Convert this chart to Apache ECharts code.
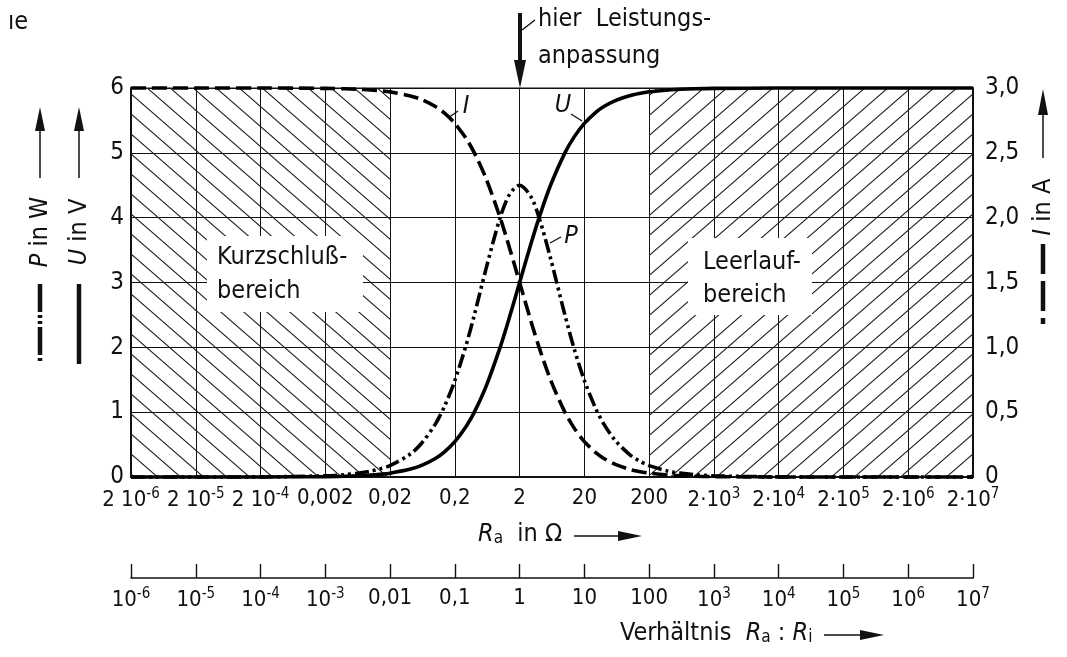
<!DOCTYPE html>
<html>
<head>
<meta charset="utf-8">
<script src="https://cdn.jsdelivr.net/npm/echarts@6/dist/echarts.min.js"></script>
<style>html,body{margin:0;padding:0;background:#fff}#c{width:1067px;height:657px}</style>
</head>
<body>
<div id="c"></div>
<script>
// ---- data (x = ratio Ra : Ri, Ri = 2 Ω) ----
const ratio = [1e-6, 1e-5, 1e-4, 1e-3, 0.002, 0.003, 0.005, 0.007, 0.01, 0.02, 0.03, 0.05, 0.07, 0.1, 0.15, 0.2, 0.3, 0.5, 0.7, 1, 1.5, 2, 3, 5, 7, 10, 15, 20, 30, 50, 70, 100, 200, 300, 500, 1000, 1e4, 1e5, 1e6, 1e7];
const uVolt = [0, 0, 0.001, 0.006, 0.012, 0.018, 0.03, 0.042, 0.059, 0.118, 0.175, 0.286, 0.393, 0.545, 0.783, 1.0, 1.385, 2.0, 2.47, 3.0, 3.6, 4.0, 4.5, 5.0, 5.25, 5.455, 5.625, 5.714, 5.806, 5.882, 5.915, 5.941, 5.97, 5.98, 5.988, 5.994, 5.999, 6, 6, 6];
const iAmp = [3, 3, 3, 2.997, 2.994, 2.991, 2.985, 2.979, 2.97, 2.941, 2.913, 2.857, 2.804, 2.727, 2.609, 2.5, 2.308, 2.0, 1.765, 1.5, 1.2, 1.0, 0.75, 0.5, 0.375, 0.273, 0.188, 0.143, 0.097, 0.059, 0.042, 0.03, 0.015, 0.01, 0.006, 0.003, 0.0003, 0, 0, 0];
const pWatt = [0, 0, 0.002, 0.018, 0.036, 0.054, 0.09, 0.124, 0.176, 0.346, 0.509, 0.816, 1.1, 1.488, 2.042, 2.5, 3.195, 4.0, 4.36, 4.5, 4.32, 4.0, 3.375, 2.5, 1.969, 1.488, 1.055, 0.816, 0.562, 0.346, 0.25, 0.176, 0.089, 0.06, 0.036, 0.018, 0.002, 0, 0, 0];
const raTickLabels = ['2 10{sup|-6}', '2 10{sup|-5}', '2 10{sup|-4}', '0,002', '0,02', '0,2', '2', '20', '200', '2·10{sup|3}', '2·10{sup|4}', '2·10{sup|5}', '2·10{sup|6}', '2·10{sup|7}'];
const ratioTickLabels = ['10{sup|-6}', '10{sup|-5}', '10{sup|-4}', '10{sup|-3}', '0,01', '0,1', '1', '10', '100', '10{sup|3}', '10{sup|4}', '10{sup|5}', '10{sup|6}', '10{sup|7}'];
const leftTickLabels = ['0', '1', '2', '3', '4', '5', '6'];
const rightTickLabels = ['0', '0,5', '1,0', '1,5', '2,0', '2,5', '3,0'];
const shortCircuitRange = [1e-6, 0.01];
const openCircuitRange = [100, 1e7];

const FONT = '"Liberation Sans Narrow", "DejaVu Sans Condensed", "Roboto Condensed", sans-serif';
const INK = '#111';

function hatch(dir) {
  const w = 23, h = 20;
  const c = document.createElement('canvas');
  c.width = w; c.height = h;
  const g = c.getContext('2d');
  g.strokeStyle = '#222'; g.lineWidth = 1.1;
  g.beginPath();
  if (dir === 'back') {
    g.moveTo(-w, -h); g.lineTo(2 * w, 2 * h);
    g.moveTo(-w, 0); g.lineTo(w, 2 * h);
    g.moveTo(0, -h); g.lineTo(2 * w, h);
  } else {
    g.moveTo(-w, 2 * h); g.lineTo(2 * w, -h);
    g.moveTo(-w, h); g.lineTo(w, -h);
    g.moveTo(0, 2 * h); g.lineTo(2 * w, 0);
  }
  g.stroke();
  return { image: c, repeat: 'repeat' };
}

function expIndex(v) { return Math.round(Math.log10(v)) + 6; }
const supRich = { sup: { fontSize: 15, fontFamily: FONT, color: INK, padding: [0, 0, 12, 0] } };

const chart = echarts.init(document.getElementById('c'), null, { renderer: 'canvas' });

function pairs(ys) { return ratio.map((r, i) => [r, ys[i]]); }

const option = {
  backgroundColor: '#fff',
  animation: false,
  textStyle: { fontFamily: FONT, color: INK },
  grid: { left: 131, right: 94, top: 88, bottom: 180, show: true, borderColor: INK, borderWidth: 1.2, backgroundColor: 'transparent' },
  xAxis: [
    {
      type: 'log', logBase: 10, min: 1e-6, max: 1e7, interval: 1, splitNumber: 13, position: 'bottom',
      axisLine: { show: true, lineStyle: { color: INK, width: 2 } },
      axisTick: { show: false },
      splitLine: { show: true, lineStyle: { color: INK, width: 1 } },
      axisLabel: {
        margin: 10, fontSize: 22, fontFamily: FONT, color: INK,
        formatter: v => raTickLabels[expIndex(v)] || '',
        rich: supRich
      }
    },
    {
      type: 'log', logBase: 10, min: 1e-6, max: 1e7, interval: 1, splitNumber: 13, position: 'bottom', offset: 101,
      axisLine: { show: true, onZero: false, lineStyle: { color: INK, width: 1.6 } },
      axisTick: { show: true, inside: true, length: 14, lineStyle: { color: INK, width: 1.4 } },
      splitLine: { show: false },
      axisLabel: {
        margin: 9, fontSize: 22, fontFamily: FONT, color: INK,
        formatter: v => ratioTickLabels[expIndex(v)] || '',
        rich: supRich
      }
    }
  ],
  yAxis: [
    {
      type: 'value', min: 0, max: 6, interval: 1, position: 'left',
      axisLine: { show: true, lineStyle: { color: INK, width: 2 } },
      axisTick: { show: false },
      splitLine: { show: true, lineStyle: { color: INK, width: 1 } },
      axisLabel: { margin: 7, fontSize: 24, fontFamily: FONT, color: INK, formatter: (v) => leftTickLabels[Math.round(v)] }
    },
    {
      type: 'value', min: 0, max: 3, interval: 0.5, position: 'right',
      axisLine: { show: true, lineStyle: { color: INK, width: 2 } },
      axisTick: { show: false },
      splitLine: { show: false },
      axisLabel: { margin: 12, fontSize: 24, fontFamily: FONT, color: INK, formatter: (v) => rightTickLabels[Math.round(v * 2)] }
    }
  ],
  series: [
    {
      name: 'hatch', type: 'line', data: [], z: 1, silent: true,
      markArea: {
        silent: true,
        data: [
          [{ xAxis: shortCircuitRange[0], yAxis: 0, itemStyle: { color: hatch('back'), opacity: 1 } }, { xAxis: shortCircuitRange[1], yAxis: 6 }],
          [{ xAxis: openCircuitRange[0], yAxis: 0, itemStyle: { color: hatch('fwd'), opacity: 1 } }, { xAxis: openCircuitRange[1], yAxis: 6 }]
        ]
      }
    },
    {
      name: 'U', type: 'line', xAxisIndex: 0, yAxisIndex: 0, data: pairs(uVolt), showSymbol: false,
      smooth: 0.3, clip: false, z: 5,
      lineStyle: { color: '#000', width: 3.6 }
    },
    {
      name: 'I', type: 'line', xAxisIndex: 0, yAxisIndex: 1, data: pairs(iAmp), showSymbol: false,
      smooth: 0.3, clip: false, z: 5,
      lineStyle: { color: '#000', width: 3.6, type: [15, 6] }
    },
    {
      name: 'P', type: 'line', xAxisIndex: 0, yAxisIndex: 0, data: pairs(pWatt), showSymbol: false,
      smooth: 0.3, clip: false, z: 5,
      lineStyle: { color: '#000', width: 3.6, type: [14, 4, 3, 4, 3, 4] }
    }
  ],
  graphic: {
    elements: [
      // label boxes
      { type: 'rect', z: 20, shape: { x: 207, y: 236, width: 156, height: 76 }, style: { fill: '#fff' } },
      { type: 'rect', z: 20, shape: { x: 688, y: 238, width: 124, height: 77 }, style: { fill: '#fff' } },
      { type: 'text', z: 21, x: 217, y: 274, style: { text: 'Kurzschluß-\nbereich', fontSize: 25, fontFamily: FONT, fill: INK, lineHeight: 34, align: 'left', verticalAlign: 'middle' } },
      { type: 'text', z: 21, x: 703, y: 279, style: { text: 'Leerlauf-\nbereich', fontSize: 25, fontFamily: FONT, fill: INK, lineHeight: 33, align: 'left', verticalAlign: 'middle' } },
      // curve labels
      { type: 'text', z: 21, x: 466, y: 106, style: { text: 'I', fontSize: 25, fontStyle: 'italic', fontFamily: FONT, fill: INK, align: 'center', verticalAlign: 'middle' } },
      { type: 'line', z: 21, shape: { x1: 448, y1: 118, x2: 458, y2: 111 }, style: { stroke: INK, lineWidth: 1.3 } },
      { type: 'text', z: 21, x: 563, y: 105, style: { text: 'U', fontSize: 25, fontStyle: 'italic', fontFamily: FONT, fill: INK, align: 'center', verticalAlign: 'middle' } },
      { type: 'line', z: 21, shape: { x1: 571, y1: 114, x2: 582, y2: 121 }, style: { stroke: INK, lineWidth: 1.3 } },
      { type: 'text', z: 21, x: 571, y: 236, style: { text: 'P', fontSize: 25, fontStyle: 'italic', fontFamily: FONT, fill: INK, align: 'center', verticalAlign: 'middle' } },
      { type: 'line', z: 21, shape: { x1: 550, y1: 243, x2: 561, y2: 237 }, style: { stroke: INK, lineWidth: 1.3 } },
      // Leistungsanpassung
      { type: 'text', z: 21, x: 538, y: 19, style: { text: 'hier  Leistungs-', fontSize: 25, fontFamily: FONT, fill: INK, align: 'left', verticalAlign: 'middle' } },
      { type: 'text', z: 21, x: 538, y: 56, style: { text: 'anpassung', fontSize: 25, fontFamily: FONT, fill: INK, align: 'left', verticalAlign: 'middle' } },
      { type: 'line', z: 21, shape: { x1: 520, y1: 13, x2: 520, y2: 64 }, style: { stroke: INK, lineWidth: 4 } },
      { type: 'polygon', z: 21, shape: { points: [[514, 60], [526, 60], [520, 88]] }, style: { fill: INK } },
      { type: 'line', z: 21, shape: { x1: 522, y1: 30, x2: 535, y2: 20 }, style: { stroke: INK, lineWidth: 1.4 } },
      // left axis names
      { type: 'text', z: 21, x: 40, y: 232, rotation: Math.PI / 2, style: { text: '{i|P} in W', fontSize: 25, fontFamily: FONT, fill: INK, align: 'center', verticalAlign: 'middle', rich: { i: { fontStyle: 'italic', fontSize: 25, fontFamily: FONT } } } },
      { type: 'text', z: 21, x: 79, y: 232, rotation: Math.PI / 2, style: { text: '{i|U} in V', fontSize: 25, fontFamily: FONT, fill: INK, align: 'center', verticalAlign: 'middle', rich: { i: { fontStyle: 'italic', fontSize: 25, fontFamily: FONT } } } },
      { type: 'line', z: 21, shape: { x1: 40, y1: 128, x2: 40, y2: 178 }, style: { stroke: INK, lineWidth: 1.5 } },
      { type: 'polygon', z: 21, shape: { points: [[35, 131], [45, 131], [40, 107]] }, style: { fill: INK } },
      { type: 'line', z: 21, shape: { x1: 79, y1: 128, x2: 79, y2: 178 }, style: { stroke: INK, lineWidth: 1.5 } },
      { type: 'polygon', z: 21, shape: { points: [[74, 131], [84, 131], [79, 107]] }, style: { fill: INK } },
      { type: 'line', z: 21, shape: { x1: 40, y1: 284, x2: 40, y2: 364 }, style: { stroke: INK, lineWidth: 4.5, lineDash: [28, 3, 3, 3, 3, 3] } },
      { type: 'line', z: 21, shape: { x1: 79, y1: 284, x2: 79, y2: 364 }, style: { stroke: INK, lineWidth: 4.5 } },
      // right axis name
      { type: 'text', z: 21, x: 1043, y: 207, rotation: Math.PI / 2, style: { text: '{i|I} in A', fontSize: 25, fontFamily: FONT, fill: INK, align: 'center', verticalAlign: 'middle', rich: { i: { fontStyle: 'italic', fontSize: 25, fontFamily: FONT } } } },
      { type: 'line', z: 21, shape: { x1: 1043, y1: 112, x2: 1043, y2: 158 }, style: { stroke: INK, lineWidth: 1.5 } },
      { type: 'polygon', z: 21, shape: { points: [[1038, 115], [1048, 115], [1043, 89]] }, style: { fill: INK } },
      { type: 'line', z: 21, shape: { x1: 1043, y1: 244, x2: 1043, y2: 324 }, style: { stroke: INK, lineWidth: 4.5, lineDash: [30, 7] } },
      // bottom axis names
      { type: 'text', z: 21, x: 478, y: 534, style: { text: '{i|R}{sub|a}  in Ω', fontSize: 25, fontFamily: FONT, fill: INK, align: 'left', verticalAlign: 'middle', rich: { i: { fontStyle: 'italic', fontSize: 25, fontFamily: FONT }, sub: { fontSize: 17, fontFamily: FONT, padding: [10, 0, 0, 0] } } } },
      { type: 'line', z: 21, shape: { x1: 574, y1: 536, x2: 622, y2: 536 }, style: { stroke: INK, lineWidth: 1.5 } },
      { type: 'polygon', z: 21, shape: { points: [[618, 531], [618, 541], [642, 536]] }, style: { fill: INK } },
      { type: 'text', z: 21, x: 620, y: 633, style: { text: 'Verhältnis  {i|R}{sub|a} : {i|R}{sub|i}', fontSize: 25, fontFamily: FONT, fill: INK, align: 'left', verticalAlign: 'middle', rich: { i: { fontStyle: 'italic', fontSize: 25, fontFamily: FONT }, sub: { fontSize: 17, fontFamily: FONT, padding: [10, 0, 0, 0] } } } },
      { type: 'line', z: 21, shape: { x1: 824, y1: 635, x2: 864, y2: 635 }, style: { stroke: INK, lineWidth: 1.5 } },
      { type: 'polygon', z: 21, shape: { points: [[860, 630], [860, 640], [884, 635]] }, style: { fill: INK } },
      // cut-off text at top left
      { type: 'text', z: 21, x: 8, y: 22, style: { text: 'ıe', fontSize: 25, fontFamily: FONT, fill: INK, align: 'left', verticalAlign: 'middle' } }
    ]
  }
};
chart.setOption(option);
</script>
</body>
</html>
